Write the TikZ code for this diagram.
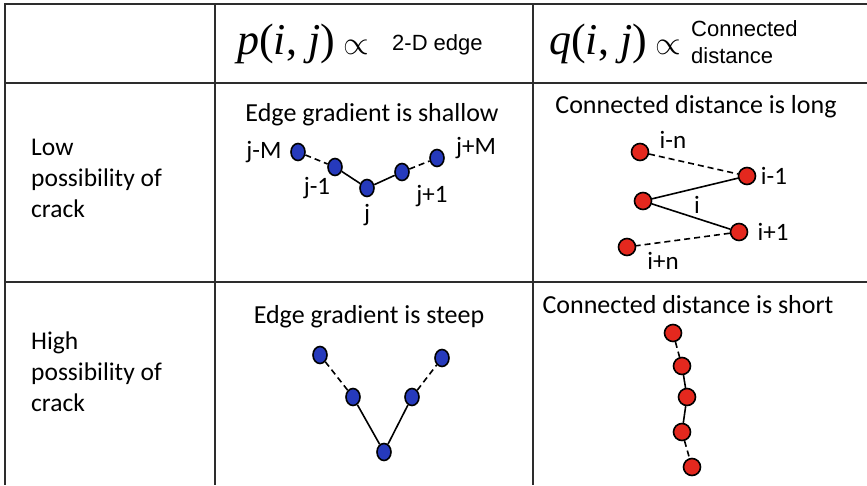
\documentclass[tikz,border=0pt]{standalone}
\usepackage{graphicx}
\usepackage{fontspec}
\setmainfont{Carlito}
\newfontfamily\arialfont{Liberation Sans}
\newfontfamily\timesfont{Liberation Serif}
\definecolor{dotblue}{RGB}{38,58,188}
\definecolor{dotred}{RGB}{228,40,30}
\definecolor{rulegray}{RGB}{45,45,45}
\usetikzlibrary{shapes.geometric}
\newcommand{\prop}[1]{\textit{#1}(\textit{i}, \textit{j})\hspace{9pt}\raisebox{0.5pt}{\scalebox{3.3}{\fontsize{10}{12}\selectfont$\propto$}}}

\begin{document}
\begin{tikzpicture}[x=1pt,y=-1pt,
  rule/.style={rulegray,line width=2.2pt},
  txt/.style={font=\fontsize{26}{31}\selectfont,inner sep=0pt},
  rowlbl/.style={font=\fontsize{25.5}{31}\selectfont,inner sep=0pt,align=left,anchor=west},
  lbl/.style={font=\fontsize{25}{26}\selectfont,inner sep=0pt},
  hdr/.style={font=\arialfont\fontsize{22}{27}\selectfont,inner sep=0pt,align=left},
  formula/.style={font=\timesfont\fontsize{44}{48}\selectfont,inner sep=0pt,anchor=west},
  bdot/.style={ellipse,draw,line width=1.6pt,fill=dotblue,minimum width=14pt,minimum height=17pt,inner sep=0pt},
  rdot/.style={circle,draw,line width=1.6pt,fill=dotred,minimum size=17pt,inner sep=0pt},
  link/.style={line width=1.6pt},
  gap/.style={line width=1.6pt,dash pattern=on 6pt off 4pt}]
  \useasboundingbox (0,0) rectangle (867,485);
  % Table rules
  \draw[rule] (5,4) -- (867,4);
  \draw[rule] (5,83) -- (867,83);
  \draw[rule] (5,282) -- (867,282);
  \draw[rule] (5,3) -- (5,485);
  \draw[rule] (215,3) -- (215,485);
  \draw[rule] (533,3) -- (533,485);
  % Header row
  \node[formula] (pform) at (237,44) {\prop{p}};
  \node[hdr,anchor=west] (pedge) at (392,45) {2-D edge};
  \node[formula] (qform) at (549,44) {\prop{q}};
  \node[hdr,anchor=west] (qdist) at (691,42) {Connected\\distance};
  % Row labels
  \node[rowlbl] (lowlbl) at (31,178) {Low\\possibility of\\crack};
  \node[rowlbl] (highlbl) at (31,372) {High\\possibility of\\crack};
  % Low possibility: edge gradient
  \node[txt] (shallow) at (372,115) {Edge gradient is shallow};
  \node[bdot] (jm) at (298,152) {};
  \node[bdot] (jm1) at (335,167) {};
  \node[bdot] (j0) at (367,188) {};
  \node[bdot] (jp1) at (402,172) {};
  \node[bdot] (jp) at (437,158) {};
  \draw[gap] (jm) -- (jm1);
  \draw[link] (jm1) -- (j0);
  \draw[link] (j0) -- (jp1);
  \draw[gap] (jp1) -- (jp);
  \node[lbl] (ljm) at (264,152) {j-M};
  \node[lbl] (ljm1) at (317,188) {j-1};
  \node[lbl] (lj0) at (367,215) {j};
  \node[lbl] (ljp1) at (432,196) {j+1};
  \node[lbl] (ljp) at (476,148) {j+M};
  % Low possibility: connected distance
  \node[txt] (long) at (696,107) {Connected distance is long};
  \node[rdot] (imn) at (640,152) {};
  \node[rdot] (im1) at (747,176) {};
  \node[rdot] (i0) at (643,201) {};
  \node[rdot] (ip1) at (739,232) {};
  \node[rdot] (ipn) at (627,247) {};
  \draw[gap] (imn) -- (im1);
  \draw[link] (i0) -- (im1);
  \draw[link] (i0) -- (ip1);
  \draw[gap] (ip1) -- (ipn);
  \node[lbl] (limn) at (673,140) {i-n};
  \node[lbl] (lim1) at (774,176) {i-1};
  \node[lbl] (li0) at (697,205) {i};
  \node[lbl] (lip1) at (773,232) {i+1};
  \node[lbl] (lipn) at (663,261) {i+n};
  % High possibility: edge gradient
  \node[txt] (steep) at (369,317) {Edge gradient is steep};
  \node[bdot] (s1) at (320,355) {};
  \node[bdot] (s2) at (353,397) {};
  \node[bdot] (s3) at (384,452) {};
  \node[bdot] (s4) at (412,397) {};
  \node[bdot] (s5) at (442,358) {};
  \draw[gap] (s1) -- (s2);
  \draw[link] (s2) -- (s3);
  \draw[link] (s3) -- (s4);
  \draw[gap] (s4) -- (s5);
  % High possibility: connected distance
  \node[txt] (short) at (688,305) {Connected distance is short};
  \node[rdot] (c1) at (673,333) {};
  \node[rdot] (c2) at (682,366) {};
  \node[rdot] (c3) at (687,397) {};
  \node[rdot] (c4) at (682,432) {};
  \node[rdot] (c5) at (692,467) {};
  \draw[gap] (c1) -- (c2);
  \draw[link] (c2) -- (c3);
  \draw[link] (c3) -- (c4);
  \draw[gap] (c4) -- (c5);
\end{tikzpicture}
\end{document}
